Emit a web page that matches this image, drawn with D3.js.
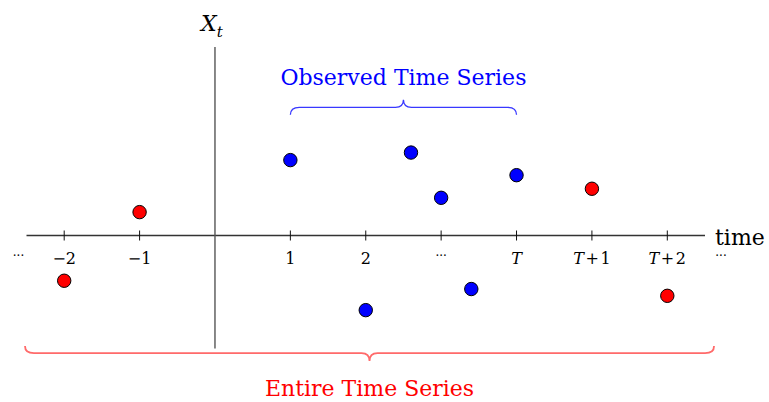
<!DOCTYPE html>
<meta charset="utf-8">
<style>
  body { margin: 0; background: #fff; }
  svg { display: block; }
  text { font-family: "DejaVu Serif", serif; }
</style>
<svg width="769" height="402"></svg>
<script src="https://d3js.org/d3.v7.min.js"></script>
<script>
    // data
    var tickTimes = [-2, -1, 1, 2, 3, 4, 5, 6];
    var tickLabels = ["−2", "−1", "1", "2", "···", "T", "T+1", "T+2"];
    var observedT = [1, 2, 2.6, 3, 3.4, 4];
    var observedX = [1.0, -0.99, 1.10, 0.50, -0.71, 0.80];
    var otherT = [-2, -1, 5, 6];
    var otherX = [-0.60, 0.31, 0.62, -0.80];

    var svg = d3.select("svg");
    var x = d3.scaleLinear().domain([-2.5, 6.5]).range([26.5, 705]);
    var y = d3.scaleLinear().domain([-1.5, 2.5]).range([348.6, 47]);

    // axes
    svg.append("line")
        .attr("x1", x(-2.5)).attr("x2", x(6.5))
        .attr("y1", y(0)).attr("y2", y(0))
        .attr("stroke", "#333").attr("stroke-width", 1.3);
    svg.append("line")
        .attr("x1", x(0)).attr("x2", x(0))
        .attr("y1", y(-1.5)).attr("y2", y(2.5))
        .attr("stroke", "#555").attr("stroke-width", 1.4);

    svg.selectAll(".tick")
        .data(tickTimes)
        .enter().append("line")
        .attr("x1", function (d) { return x(d); })
        .attr("x2", function (d) { return x(d); })
        .attr("y1", y(0) - 5).attr("y2", y(0) + 5)
        .attr("stroke", "#111").attr("stroke-width", 1);

    svg.selectAll(".tlab")
        .data(tickTimes)
        .enter().append("text")
        .attr("x", function (d) { return x(d); })
        .attr("y", y(0) + 28)
        .attr("text-anchor", "middle")
        .attr("font-size", 16)
        .attr("fill", "#000")
        .each(function (d, i) {
            var lab = tickLabels[i];
            var t = d3.select(this);
            if (lab === "···") {
                t.attr("font-size", 12).attr("y", y(0) + 24).text("···");
            } else if (lab[0] === "T") {
                t.append("tspan").attr("font-style", "italic").text("T");
                if (lab.length > 1) t.append("tspan").text(lab.slice(1).replace("+", "\u200a+\u200a"));
            } else {
                t.text(lab);
            }
        });

    // outer dots
    svg.append("text").attr("x", x(-2.5) - 8).attr("y", y(0) + 24)
        .attr("text-anchor", "middle").attr("font-size", 12).attr("fill", "#000").text("···");
    svg.append("text").attr("x", x(6.5) + 16).attr("y", y(0) + 24)
        .attr("text-anchor", "middle").attr("font-size", 12).attr("fill", "#000").text("···");

    // axis labels
    svg.append("text").attr("x", x(6.5) + 10).attr("y", y(0) + 9)
        .attr("font-size", 22).attr("fill", "#000").text("time");
    var xl = svg.append("text").attr("x", x(0) - 14).attr("y", 31)
        .attr("font-size", 22).attr("fill", "#000");
    xl.append("tspan").attr("font-style", "italic").text("X");
    xl.append("tspan").attr("font-style", "italic").attr("font-size", 15).attr("dy", 6).text("t");

    // braces
    function brace(x1, x2, yEnd, yLine, yTip) {
        var xm = (x1 + x2) / 2, r = 9, r2 = 8;
        var p = d3.path();
        p.moveTo(x1, yEnd);
        p.quadraticCurveTo(x1, yLine, x1 + r, yLine);
        p.lineTo(xm - r2, yLine);
        p.quadraticCurveTo(xm, yLine, xm, yTip);
        p.quadraticCurveTo(xm, yLine, xm + r2, yLine);
        p.lineTo(x2 - r, yLine);
        p.quadraticCurveTo(x2, yLine, x2, yEnd);
        return p.toString();
    }
    svg.append("path")
        .attr("d", brace(x(1), x(4), y(1.60), y(1.70), y(1.80)))
        .attr("fill", "none").attr("stroke", "#3838ff").attr("stroke-width", 1.3);
    svg.append("path")
        .attr("d", brace(x(-2.52), x(6.62), y(-1.465), y(-1.56), y(-1.665)))
        .attr("fill", "none").attr("stroke", "#ff6a6a").attr("stroke-width", 1.8);

    svg.append("text").attr("x", x(2.5)).attr("y", 85)
        .attr("text-anchor", "middle").attr("font-size", 22).attr("fill", "#0000ff")
        .text("Observed Time Series");
    svg.append("text").attr("x", x(2.05)).attr("y", 396)
        .attr("text-anchor", "middle").attr("font-size", 22).attr("fill", "#ff0000")
        .text("Entire Time Series");

    // points
    svg.selectAll(".obs")
        .data(observedT)
        .enter().append("circle")
        .attr("cx", function (d) { return x(d); })
        .attr("cy", function (d, i) { return y(observedX[i]); })
        .attr("r", 6.7)
        .attr("fill", "#0000ff").attr("stroke", "#000").attr("stroke-width", 1);
    svg.selectAll(".oth")
        .data(otherT)
        .enter().append("circle")
        .attr("cx", function (d) { return x(d); })
        .attr("cy", function (d, i) { return y(otherX[i]); })
        .attr("r", 6.7)
        .attr("fill", "#ff0000").attr("stroke", "#000").attr("stroke-width", 1);
</script>
